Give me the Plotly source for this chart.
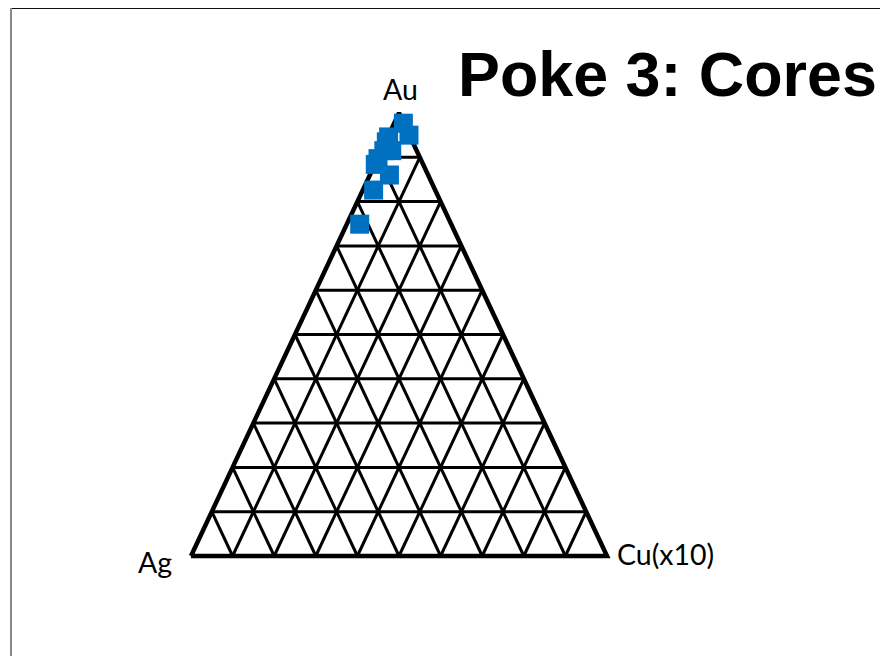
import plotly.graph_objects as go

# Composition of the core analyses (percent); Cu is plotted at x10
au_pct = [97.7, 95.0, 94.6, 93.5, 91.5, 91.5, 89.7, 88.4, 86.0, 82.6, 74.9]
cu_pct = [2.2, 4.9, 0.2, 0.2, 0.6, 2.5, 0.1, 0.1, 4.7, 2.6, 3.1]
ag_pct = [round(100 - a - c, 1) for a, c in zip(au_pct, cu_pct)]

grid_steps = [i / 10 for i in range(1, 10)]
corner_labels = ["Ag", "Cu(x10)", "Au"]
title_text = "Poke 3: Cores"


def to_xy(au, cu):
    """Ternary fractions -> plane: Ag at (0,0), Cu at (1,0), Au at (0.5,1)."""
    return cu + au / 2.0, au


# grid lines parallel to each side
gx, gy = [], []
for t in grid_steps:
    # constant Au
    for p in (to_xy(t, 0.0), to_xy(t, 1 - t)):
        gx.append(p[0]); gy.append(p[1])
    gx.append(None); gy.append(None)
    # constant Cu
    for p in (to_xy(0.0, t), to_xy(1 - t, t)):
        gx.append(p[0]); gy.append(p[1])
    gx.append(None); gy.append(None)
    # constant Ag
    for p in (to_xy(0.0, 1 - t), to_xy(1 - t, 0.0)):
        gx.append(p[0]); gy.append(p[1])
    gx.append(None); gy.append(None)

corners = [to_xy(0, 0), to_xy(0, 1), to_xy(1, 0), to_xy(0, 0)]

pts = [to_xy(a / 100, c / 100) for a, c in zip(au_pct, cu_pct)]

fig = go.Figure()
fig.add_trace(go.Scatter(x=gx, y=gy, mode="lines",
                         line=dict(color="black", width=3),
                         hoverinfo="skip", showlegend=False))
fig.add_trace(go.Scatter(x=[p[0] for p in corners], y=[p[1] for p in corners],
                         mode="lines", line=dict(color="black", width=4.5),
                         hoverinfo="skip", showlegend=False))
fig.add_trace(go.Scatter(x=[p[0] for p in pts], y=[p[1] for p in pts],
                         mode="markers",
                         marker=dict(symbol="square", size=19, color="#0070C0",
                                     line=dict(width=0)),
                         customdata=list(zip(au_pct, ag_pct, cu_pct)),
                         hovertemplate="Au %{customdata[0]}%<br>Ag %{customdata[1]}%"
                                       "<br>Cu(x10) %{customdata[2]}%<extra></extra>",
                         showlegend=False))

label_font = dict(family="Lato", size=28.5, color="black")
fig.add_annotation(x=0.0, y=0.0, text=corner_labels[0], showarrow=False,
                   xanchor="right", yanchor="middle", xshift=-17, yshift=-6,
                   font=label_font)
fig.add_annotation(x=1.0, y=0.0, text=corner_labels[1], showarrow=False,
                   xanchor="left", yanchor="middle", xshift=8, yshift=2,
                   font=label_font)
fig.add_annotation(x=0.5, y=1.0, text=corner_labels[2], showarrow=False,
                   xanchor="center", yanchor="bottom", xshift=1, yshift=5,
                   font=label_font)

fig.add_annotation(x=456 / 880, y=1 - 74 / 656, xref="paper", yref="paper",
                   text="<b>%s</b>" % title_text, showarrow=False,
                   xanchor="left", yanchor="middle",
                   font=dict(family="Liberation Sans", size=62.8, color="black"))

# frame edges
fig.add_shape(type="line", xref="paper", yref="paper",
              x0=10.5 / 880, x1=1, y0=1 - 8.5 / 656, y1=1 - 8.5 / 656,
              line=dict(color="#111111", width=1.2))
fig.add_shape(type="line", xref="paper", yref="paper",
              x0=11 / 880, x1=11 / 880, y0=0, y1=1 - 8 / 656,
              line=dict(color="#888888", width=2))

fig.update_xaxes(range=[-191 / 416, -191 / 416 + 880 / 416], visible=False,
                 fixedrange=True)
fig.update_yaxes(range=[-100 / 443, -100 / 443 + 656 / 443], visible=False,
                 fixedrange=True)
fig.update_layout(width=880, height=656, margin=dict(l=0, r=0, t=0, b=0),
                  paper_bgcolor="white", plot_bgcolor="white")

fig.write_html("out.html")
